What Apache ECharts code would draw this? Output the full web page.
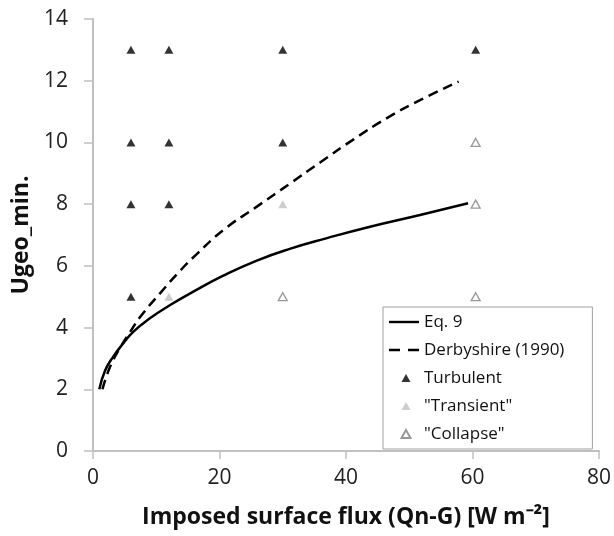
<!DOCTYPE html>
<html><head><meta charset="utf-8">
<script src="https://cdn.jsdelivr.net/npm/echarts@6/dist/echarts.min.js"></script>
<style>html,body{margin:0;padding:0;background:#fff}#c{width:614px;height:536px}</style>
</head><body><div id="c"></div>
<script>
const eq9 = [[1.0,2.0],[1.9,2.6],[3.2,3.06],[4.8,3.49],[6.4,3.87],[9.0,4.3],[12.2,4.73],[16.0,5.18],[20.6,5.68],[25.9,6.17],[31.1,6.55],[37.0,6.9],[43.8,7.27],[51.7,7.65],[59.3,8.03]];
const derbyshire = [[1.5,2.0],[2.7,2.73],[4.3,3.35],[5.85,3.85],[7.4,4.33],[10.6,5.11],[13.8,5.85],[16.4,6.38],[20.6,7.16],[25.9,7.92],[31.1,8.66],[35.9,9.35],[41.2,10.1],[46.4,10.78],[51.7,11.37],[57.8,11.97]];
const turbulent = [[6,13],[6,10],[6,8],[6,5],[12,13],[12,10],[12,8],[30,13],[30,10],[60.5,13]];
const transient = [[12,5],[30,8]];
const collapse = [[30,5],[60.5,10],[60.5,8],[60.5,5]];
const xTicks = [0,20,40,60,80];
const yTicks = [0,2,4,6,8,10,12,14];
const legendNames = ['Eq. 9','Derbyshire (1990)','Turbulent','"Transient"','"Collapse"'];

const font = '"Open Sans", "Liberation Sans", sans-serif';
const triIcon = 'path://M0,0M30,10M12.5,9L17,1L21.5,9Z';
const chart = echarts.init(document.getElementById('c'));
chart.setOption({
  animation:false,
  grid:{left:93,right:15,top:19,bottom:85},
  legend:{
    orient:'vertical', left:383, top:307,
    padding:[5,28,5,5], itemGap:8, itemWidth:30, itemHeight:10,
    borderColor:'#a0a0a0', borderWidth:1, backgroundColor:'#fff',
    textStyle:{fontFamily:font, fontSize:17, lineHeight:20, color:'#111'},
    data:[
      {name:legendNames[0], icon:'path://M0,0H30V2.4H0Z'},
      {name:legendNames[1], icon:'path://M0,0H11V2.4H0ZM19,0H30V2.4H19Z'},
      {name:legendNames[2], icon:triIcon},
      {name:legendNames[3], icon:triIcon},
      {name:legendNames[4], icon:triIcon}
    ]
  },
  xAxis:{type:'value',min:xTicks[0],max:xTicks[xTicks.length-1],interval:20,
    axisLine:{lineStyle:{color:'#c0c0c0',width:2}},
    axisTick:{show:true,length:8,lineStyle:{color:'#c0c0c0',width:1.5}},
    splitLine:{show:false},
    axisLabel:{fontFamily:font,fontSize:21,color:'#222',margin:17},
    name:'Imposed surface flux (Qn-G) [W m\u207B\u00B2]',nameLocation:'middle',nameGap:55,
    nameTextStyle:{fontFamily:font,fontSize:23,fontWeight:'bold',color:'#111'}
  },
  yAxis:{type:'value',min:yTicks[0],max:yTicks[yTicks.length-1],interval:2,
    axisLine:{show:true,lineStyle:{color:'#c0c0c0',width:2}},
    axisTick:{show:true,length:9,lineStyle:{color:'#c0c0c0',width:1.5}},
    splitLine:{show:false},
    axisLabel:{fontFamily:font,fontSize:21,color:'#222',margin:25},
    name:'Ugeo_min.',nameLocation:'middle',nameGap:60,nameRotate:90,
    nameTextStyle:{fontFamily:font,fontSize:23,fontWeight:'bold',color:'#111'}
  },
  series:[
    {name:legendNames[0],type:'line',data:eq9,smooth:0.5,showSymbol:false,symbol:'none',
      lineStyle:{color:'#000',width:2.5},itemStyle:{color:'#000'}},
    {name:legendNames[1],type:'line',data:derbyshire,smooth:0.5,showSymbol:false,symbol:'none',
      lineStyle:{color:'#000',width:2.5,type:[10,6]},itemStyle:{color:'#000'}},
    {name:legendNames[2],type:'scatter',data:turbulent,symbol:'triangle',symbolSize:[9,8],
      itemStyle:{color:'#000'}},
    {name:legendNames[3],type:'scatter',data:transient,symbol:'triangle',symbolSize:[9,8],
      itemStyle:{color:'#c0c0c0'}},
    {name:legendNames[4],type:'scatter',data:collapse,symbol:'triangle',symbolSize:[9,8],
      itemStyle:{color:'#fff',borderColor:'#808080',borderWidth:1.3}}
  ]
});
</script></body></html>
